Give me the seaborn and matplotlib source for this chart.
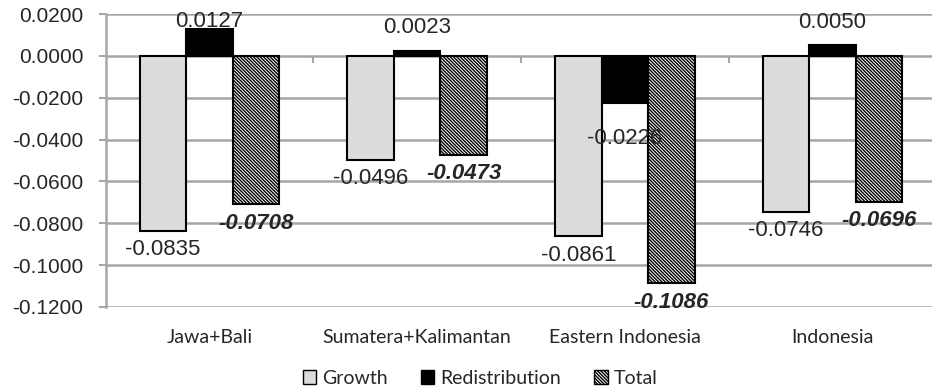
import matplotlib
matplotlib.use("Agg")
import matplotlib.pyplot as plt
from matplotlib.patches import Patch
import seaborn as sns
import pandas as pd

regions = ["Jawa+Bali", "Sumatera+Kalimantan", "Eastern Indonesia", "Indonesia"]
components = ["Growth", "Redistribution", "Total"]
growth = [-0.0835, -0.0496, -0.0861, -0.0746]
redistribution = [0.0127, 0.0023, -0.0226, 0.0050]
total = [-0.0708, -0.0473, -0.1086, -0.0696]
y_ticks = [0.02, 0.0, -0.02, -0.04, -0.06, -0.08, -0.10, -0.12]

rows = []
for comp, vals in zip(components, [growth, redistribution, total]):
    for reg, v in zip(regions, vals):
        rows.append({"region": reg, "component": comp, "value": v})
df = pd.DataFrame(rows)

sns.set_theme(style="white")
plt.rcParams["hatch.linewidth"] = 1.0

colors = {"Growth": "#dcdcdc", "Redistribution": "#000000", "Total": "#ffffff"}
hatches = {"Growth": "", "Redistribution": "", "Total": "\\" * 10}
grid_col = "#a6a6a6"
num_font = "Liberation Sans"
cat_font = "Lato"

fig = plt.figure(figsize=(9.32, 3.90), dpi=100)
ax = fig.add_axes([105.7 / 932, 1 - 307 / 390, (936.4 - 105.7) / 932, (307 - 14) / 390])

sns.barplot(data=df, x="region", y="value", hue="component", order=regions,
            hue_order=components, palette=colors, width=0.672, gap=0,
            edgecolor="black", linewidth=1.5, saturation=1, legend=False, ax=ax,
            zorder=3)

for comp, cont in zip(components, ax.containers):
    for bar in cont:
        bar.set_hatch(hatches[comp])

ax.set_ylim(-0.12, 0.02)
ax.set_xlim(-0.5, len(regions) - 0.5)
ax.set_yticks(y_ticks)
ax.set_yticklabels([f"{t:.4f}" for t in y_ticks], fontfamily=num_font, fontsize=15)
ax.yaxis.grid(True, color=grid_col, linewidth=1.8, zorder=0)
ax.set_axisbelow(True)
ax.tick_params(axis="y", length=5, width=1.5, color=grid_col, pad=11, left=True)
ax.set_xlabel("")
ax.set_ylabel("")
ax.set_xticks(range(len(regions)))
ax.set_xticklabels(regions, fontfamily=cat_font, fontsize=14)
ax.tick_params(axis="x", length=0, pad=16)
for s in ["top", "right", "bottom"]:
    ax.spines[s].set_visible(False)
ax.spines["left"].set_color(grid_col)
ax.spines["left"].set_linewidth(1.8)

# category separators rising from the zero line
zero_loc = (0 - (-0.12)) / (0.02 - (-0.12))
sec = ax.secondary_xaxis(zero_loc)
sec.set_xticks([i + 0.5 for i in range(len(regions) - 1)])
sec.set_xticklabels([])
sec.tick_params(axis="x", direction="in", length=5, width=1.5, color=grid_col)
sec.spines["bottom"].set_visible(False)
sec.spines["top"].set_visible(False)

# value labels
ax_h = 307 - 14
px_per_unit = ax_h / 0.14
for comp, cont in zip(components, ax.containers):
    for bar, val in zip(cont, df[df.component == comp]["value"]):
        x = bar.get_x() + bar.get_width() / 2
        if comp == "Redistribution":
            dy = 24 if val > 0 else -35
        else:
            dy = -19
        top_px = (0.02 - val) * px_per_unit - dy
        if top_px < 8:
            dy = (0.02 - val) * px_per_unit - 8
        style = dict(fontweight="bold", fontstyle="italic") if comp == "Total" else {}
        ax.annotate(f"{val:.4f}", xy=(x, val), xytext=(0, dy * 0.72),
                    textcoords="offset points", ha="center", va="center",
                    fontfamily=num_font, fontsize=16, zorder=5, **style)

handles = [Patch(facecolor=colors[c], edgecolor="black", hatch=hatches[c], linewidth=1.0)
           for c in components]
fig.legend(handles, components, loc="center", bbox_to_anchor=(0.515, 1 - 378 / 390),
           ncol=3, frameon=False, prop={"family": cat_font, "size": 14},
           handlelength=0.7, handleheight=0.7, handletextpad=0.3, columnspacing=1.7)

fig.savefig("out.png", dpi=100)
